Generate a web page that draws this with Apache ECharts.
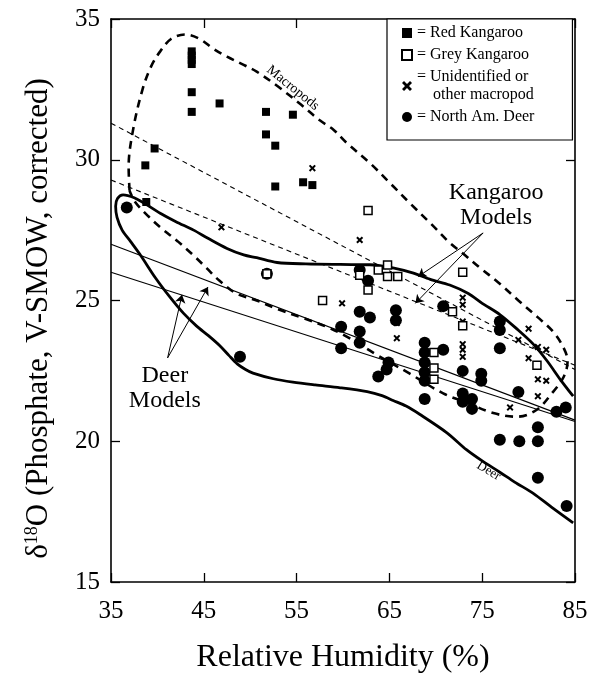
<!DOCTYPE html>
<html><head><meta charset="utf-8">
<script src="https://cdn.jsdelivr.net/npm/echarts@6/dist/echarts.min.js"></script>
<style>html,body{margin:0;padding:0;background:#fff}#c{width:600px;height:673px}</style>
</head><body><div id="c"></div>
<script>
const xTicks = [35, 45, 55, 65, 75, 85];
const yTicks = [15, 20, 25, 30, 35];
const legendNames = ['Red Kangaroo', 'Grey Kangaroo', 'Unidentified or other macropod', 'North Am. Deer'];

const redKangaroo = [[43.7,33.85],[43.7,33.7],[43.7,33.55],[43.7,33.4],[43.7,32.4],[43.7,31.7],[46.7,32.0],[51.7,31.7],[54.6,31.6],[51.7,30.9],[52.7,30.5],[39.7,30.4],[38.7,29.8],[52.7,29.05],[55.7,29.2],[56.7,29.1],[38.8,28.5]];
const greyKangaroo = [[62.7,28.2],[61.8,25.9],[62.7,25.37],[63.8,26.08],[64.8,26.26],[64.8,25.85],[65.9,25.85],[72.9,26.0],[57.8,25.0],[51.8,25.95],[71.8,24.6],[72.9,24.1],[69.8,23.15],[69.8,22.6],[69.8,22.2],[80.9,22.7]];
const unidentified = [[56.7,29.7],[46.9,27.6],[61.8,27.15],[59.9,24.9],[65.8,24.2],[65.8,23.66],[72.9,25.1],[72.9,24.85],[72.9,24.25],[72.9,23.45],[72.9,23.25],[72.9,23.0],[80.0,24.0],[78.9,23.6],[81.0,23.35],[81.9,23.25],[80.0,22.95],[81.0,22.2],[81.9,22.15],[81.0,21.6],[78.0,21.2]];
const deer = [[36.7,28.3],[48.9,23.0],[51.8,25.95],[61.8,26.08],[62.7,25.7],[61.8,24.6],[62.9,24.4],[65.7,24.65],[65.7,24.3],[59.8,24.07],[59.8,23.3],[61.8,23.9],[61.8,23.5],[64.9,22.8],[64.7,22.55],[63.8,22.3],[68.8,23.5],[68.8,23.15],[68.8,22.8],[68.8,22.45],[68.8,22.15],[70.8,23.25],[68.8,21.5],[70.8,24.8],[72.9,22.5],[74.9,22.4],[74.9,22.15],[72.9,21.7],[73.9,21.5],[72.9,21.4],[73.9,21.15],[76.9,24.25],[76.9,23.95],[76.9,23.3],[78.9,21.75],[83.0,21.05],[84.0,21.2],[81.0,20.5],[76.9,20.05],[79.0,20.0],[81.0,20.0],[81.0,18.7],[84.1,17.7]];

const macropodEnvelope = [[37.0,28.9],[36.9,29.75],[37.4,31.1],[38.4,32.5],[39.3,33.3],[40.3,33.85],[41.5,34.3],[43.0,34.45],[44.5,34.3],[46,33.95],[47.5,33.66],[49.3,33.37],[50.7,33.13],[53,32.6],[55.5,31.95],[57.5,31.4],[59,31.06],[60.4,30.6],[63,29.85],[65.1,29.16],[67.2,28.46],[69.5,27.72],[71.5,27.05],[73,26.65],[74.8,26.15],[76.7,25.65],[78.9,25.0],[81,24.4],[82.7,23.87],[83.8,23.3],[84.2,22.85],[83.8,22.3],[82.5,21.7],[80.8,21.1],[78.7,20.87],[76.2,21.0],[73.5,21.35],[70.8,21.7],[67.2,22.4],[63.7,23.06],[60.5,23.7],[58.2,24.07],[55.5,24.4],[52.9,24.7],[50.7,25.0],[48.5,25.25],[46.7,25.7],[45.3,26.15],[43.9,26.6],[42.2,27.1],[40.5,27.55],[39.0,28.0],[37.6,28.5],[37.0,28.9]];
const kangarooDeerEnvelope = [[84.8,21.6],[83.4,22.2],[82,22.85],[80.5,23.45],[78.7,24.0],[76.9,24.5],[75,24.9],[73.5,25.25],[71.5,25.55],[69.4,25.75],[67.5,25.98],[65.5,26.15],[62.9,26.27],[59.7,26.28],[56,26.3],[52.9,26.35],[50.7,26.52],[49.3,26.62],[47.5,26.85],[45.5,27.2],[43.9,27.5],[42,27.8],[40.3,28.1],[38.6,28.45],[37.5,28.65],[36.3,28.75],[35.7,28.62],[35.5,28.35],[35.65,27.95],[36.2,27.5],[37.1,27.1],[38.2,26.6],[39.8,25.8],[41.4,25.1],[42.8,24.55],[44.2,24.1],[45.5,23.75],[46.7,23.4],[47.7,23.05],[48.6,22.75],[49.5,22.55],[50.3,22.42],[52.5,22.22],[54.6,22.1],[57,22.0],[59.7,21.9],[62.6,21.76],[64.2,21.62],[65.4,21.45],[66.8,21.25],[68.3,20.95],[71.2,20.3],[73.3,19.7],[75,19.3],[76.9,18.9],[78.5,18.55],[80.5,18.15],[82.5,17.65],[84.8,17.1]];
const kangarooModelHigh = [[35,31.3],[85,22.55]];
const kangarooModelLow = [[35,29.28],[85,22.7]];
const deerModelHigh = [[35,27.0],[85,20.75]];
const deerModelLow = [[35,26.0],[85,20.7]];

const annotationText = ['Kangaroo\nModels', 'Deer\nModels', 'Macropods', 'Deer'];
const annotationAt = [[76.5,28.4],[40.8,21.9],[54.6,32.55],[75.7,18.94]];
const arrowFrom = [[75.1,27.4],[75.1,27.4],[41.1,22.96],[41.1,22.96]];
const arrowTo = [[68.1,25.85],[67.8,24.9],[42.65,25.2],[45.45,25.48]];

const FONT = 'Liberation Serif';
const xPath = 'path://M0,2L2,0L5,3L8,0L10,2L7,5L10,8L8,10L5,7L2,10L0,8L3,5Z';
const annStyle = [
  {fontSize: 24, lineHeight: 25, rotate: 0},
  {fontSize: 24, lineHeight: 25, rotate: 0},
  {fontSize: 14, lineHeight: 14, rotate: -39},
  {fontSize: 13, lineHeight: 13, rotate: -31}
];

const chart = echarts.init(document.getElementById('c'), null, {renderer: 'canvas'});
const axisBase = {
  type: 'value',
  axisLine: {show: true, lineStyle: {color: '#000', width: 1.6}},
  axisTick: {show: true, inside: true, length: 9, lineStyle: {color: '#000', width: 1.3}},
  splitLine: {show: false}
};
const lineSeries = (data, width, type, smooth) => ({
  type: 'line', data, showSymbol: false, symbol: 'none', smooth: smooth || false,
  lineStyle: {color: '#000', width, type, opacity: 1}, z: 2, silent: true
});

chart.setOption({
  animation: false,
  backgroundColor: '#fff',
  grid: {left: 111, right: 25, top: 19, bottom: 91, containLabel: false, outerBoundsMode: 'none'},
  xAxis: [
    Object.assign({}, axisBase, {
      position: 'bottom', min: xTicks[0], max: xTicks[xTicks.length-1], interval: xTicks[1]-xTicks[0],
      axisLabel: {color: '#000', fontFamily: FONT, fontSize: 25, margin: 17},
      name: 'Relative Humidity (%)', nameLocation: 'middle', nameGap: 60,
      nameTextStyle: {color: '#000', fontFamily: FONT, fontSize: 32}
    }),
    Object.assign({}, axisBase, {
      position: 'top', min: xTicks[0], max: xTicks[xTicks.length-1], interval: xTicks[1]-xTicks[0],
      axisLabel: {show: false}
    })
  ],
  yAxis: [
    Object.assign({}, axisBase, {
      position: 'left', min: yTicks[0], max: yTicks[yTicks.length-1], interval: yTicks[1]-yTicks[0],
      axisLabel: {color: '#000', fontFamily: FONT, fontSize: 25, margin: 11},
      name: 'δ{s|18}O (Phosphate, V-SMOW, corrected)', nameLocation: 'middle', nameGap: 57,
      nameTextStyle: {color: '#000', fontFamily: FONT, fontSize: 31, padding: [0, 36, 0, 0],
        rich: {s: {fontFamily: FONT, fontSize: 18, padding: [0, 0, 12, 0]}}}
    }),
    Object.assign({}, axisBase, {
      position: 'right', min: yTicks[0], max: yTicks[yTicks.length-1], interval: yTicks[1]-yTicks[0],
      axisLabel: {show: false}
    })
  ],
  legend: {
    orient: 'vertical', left: 387, top: 19, selectedMode: false,
    data: [
      {name: legendNames[0], icon: 'rect'},
      {name: legendNames[1], icon: 'rect'},
      {name: legendNames[2], icon: xPath},
      {name: legendNames[3], icon: 'circle'}
    ],
    formatter: n => n === legendNames[2] ? '= Unidentified or\n    other macropod' : '= ' + n,
    itemWidth: 10, itemHeight: 10, itemGap: 4,
    padding: [5, 38, 14, 14],
    borderColor: '#000', borderWidth: 1.2, backgroundColor: '#fff',
    textStyle: {fontFamily: FONT, fontSize: 16, lineHeight: 18, color: '#000'}
  },
  series: [
    lineSeries(deerModelHigh, 1.1, 'solid'),
    lineSeries(deerModelLow, 1.1, 'solid'),
    lineSeries(kangarooModelHigh, 1.1, [5, 4]),
    lineSeries(kangarooModelLow, 1.1, [5, 4]),
    lineSeries(macropodEnvelope, 2.6, [8, 6], 0.35),
    lineSeries(kangarooDeerEnvelope, 2.8, 'solid', 0.3),
    {
      type: 'lines', coordinateSystem: 'cartesian2d', polyline: false, silent: true,
      symbol: ['none', 'arrow'], symbolSize: 8,
      lineStyle: {color: '#000', width: 1, opacity: 1, curveness: 0},
      data: arrowFrom.map((p, i) => ({coords: [p, arrowTo[i]]})), z: 3
    },
    {
      name: legendNames[0], type: 'scatter', data: redKangaroo, symbol: 'rect', symbolSize: 8,
      itemStyle: {color: '#000', opacity: 1}, z: 5
    },
    {
      name: legendNames[1], type: 'scatter', data: greyKangaroo, symbol: 'rect', symbolSize: 8,
      itemStyle: {color: '#fff', borderColor: '#000', borderWidth: 1.5, opacity: 1}, z: 6
    },
    {
      name: legendNames[2], type: 'scatter', data: unidentified, symbol: xPath, symbolSize: 7,
      itemStyle: {color: '#000', opacity: 1}, z: 5
    },
    {
      name: legendNames[3], type: 'scatter', data: deer, symbol: 'circle', symbolSize: 12,
      itemStyle: {color: '#000', opacity: 1}, z: 4
    },
    {
      type: 'scatter', symbolSize: 0, silent: true, z: 7,
      itemStyle: {opacity: 1},
      data: annotationAt.map((p, i) => ({
        value: p,
        label: Object.assign({show: true, position: 'inside', formatter: annotationText[i],
          color: '#000', opacity: 1, fontFamily: FONT, align: 'center', verticalAlign: 'middle'}, annStyle[i])
      }))
    }
  ]
});
</script></body></html>
